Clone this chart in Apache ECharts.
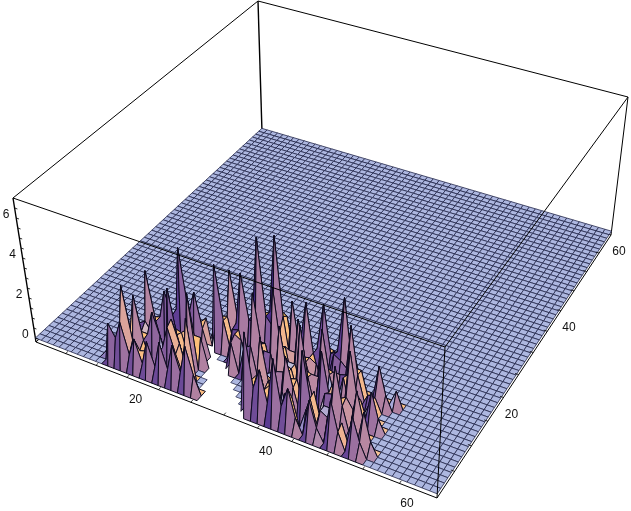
<!DOCTYPE html>
<html><head><meta charset="utf-8">
<style>html,body{margin:0;padding:0;background:#fff}#c{width:631px;height:511px}</style>
<script src="https://cdn.jsdelivr.net/npm/echarts@6/dist/echarts.min.js"></script>
</head><body><div id="c"></div>
<script>
// ---- data: raised vertices of the surface, row by row: [grid x, height]
const row1=[[12,1.9],[13,1.3],[14,2.2],[15,.7],[16,1.6],[17,.5],[18,1.7],[19,.6],[20,1.9],[21,.7],[22,2.0],[23,.8],[24,2.2],[25,.9],[33,4.0],[34,1.4],[35,2.4],[36,.9],[37,3.2],[38,1],[39,2.0],[40,.7],[42,1.8],[43,.6],[45,2.2],[46,.8],[48,1.8],[49,.7]];
const row2=[[11,.4],[12,.8],[13,1.2],[14,3.8],[15,1.2],[16,.8],[17,.9],[19,1],[21,1.2],[23,1.3],[33,1.4],[34,1.8],[35,1.2],[36,1.6],[38,1.4],[39,1.3],[41,1],[43,1.2],[44,1],[46,1],[49,1.9],[50,.6]];
const row3=[[14,1.4],[15,3.2],[16,1.1],[19,1.1],[20,2.2],[21,1.0],[23,3.0],[34,3.4],[35,1.4],[37,1.1],[40,3.5],[41,1.3],[43,1.2],[44,1.2],[47,1.0]];
const row4=[[15,1.2],[16,1.2],[17,2.4],[18,1.3],[20,2.4],[21,1.3],[34,1.4],[35,1.2],[37,2.6],[38,1.2],[41,1.4],[44,3.0],[45,1.2],[47,2.2],[48,.8]];
const row5=[[14,1.3],[15,1.5],[16,1.0],[19,3.6],[20,1.4],[22,3.7],[34,1.2],[35,1.4],[36,1.5],[37,1.3],[38,1.4],[42,1.2],[43,1.3],[44,1.2],[45,1.4],[46,.9]];
const row6=[[15,3.8],[16,1.4],[18,1.2],[19,1.4],[20,1.3],[22,1.4],[23,1.4],[35,3.4],[36,1.2],[38,3.8],[39,1.4],[41,2.9],[42,1],[45,3.4],[46,1.3],[48,1.8],[49,.6]];
const row7=[[15,1.3],[16,1.4],[17,2.8],[18,1.7],[20,1.2],[27,1.4],[29,1.4],[30,1.6],[32,1.6],[33,1.6],[35,1.3],[36,1.2],[38,1.4],[39,1.3],[40,1.3],[42,1.2],[45,1.3],[46,.9],[48,.6]];
const row8=[[16,1],[17,1.2],[18,1.8],[19,5.0],[20,1.8],[21,3.0],[22,1.3],[27,1.6],[28,1.4],[30,4.0],[31,1.6],[33,4.6],[34,1.6],[35,1.2],[36,1.2],[40,3.4],[41,1.3],[43,1.4],[47,.8]];
const row9=[[19,1.6],[20,1.7],[21,1.3],[22,1.6],[26,1.5],[27,1.6],[30,1.4],[31,1.4],[33,1.5],[34,1.6],[36,3.2],[37,1.2],[40,1.3],[41,1.2],[42,1.2],[43,1.3],[46,.7],[47,.7]];
const row10=[[20,1.2],[23,4.2],[24,1.5],[26,1.6],[27,4.2],[28,2],[29,2.0],[33,1.2],[34,1.2],[35,1.2],[36,1.1],[37,1.2],[38,1],[43,3.5],[44,1.2],[47,2.0],[48,.7]];
const row11=[[22,.8],[23,1.4],[24,1.5],[27,1.4],[28,2],[29,6.0],[30,2.2],[31,1.8],[32,1.6],[34,3.4],[35,1.2],[36,3.6],[37,1.2],[40,1.5],[41,1.3],[42,1],[43,1.2],[44,1.2],[47,.6],[49,.8]];
const row12=[[24,3.6],[25,1.2],[29,2],[30,2.2],[31,6.1],[32,2.2],[34,1],[35,1.2],[37,1.2],[38,3.5],[39,1.2],[40,1.4],[41,4.2],[42,1.4]];
const row13=[[24,1.1],[31,2.2],[32,2],[38,1.2],[39,1.1],[41,1.3],[42,1.2]];
const surfaceRows={1:row1,2:row2,3:row3,4:row4,5:row5,6:row6,7:row7,8:row8,9:row9,10:row10,11:row11,12:row12,13:row13};
// missing part of the surface: for row y, cells from holeStart[y] to holeEnd[y]
const holeStart = [26,26,25,25,24,24,23,23,22,22,21];
const holeEnd   = [33,32,31,30,29,28,27,26,24,23,22];
const xTicks = [20,40,60];
const yTicks = [20,40,60];
const zTicks = [0,2,4,6];

// ---- view
const N = 60, zMin = -0.2, zMax = 7;
const bottomCorners = [[36,342],[437,498],[611,235],[262,132]];
const topCorners    = [[13,198],[445,347],[628,97],[258,1]];
function homography(q){
  const [p0,p1,p2,p3]=q;
  const dx1=p1[0]-p2[0],dx2=p3[0]-p2[0],sx=p0[0]-p1[0]+p2[0]-p3[0];
  const dy1=p1[1]-p2[1],dy2=p3[1]-p2[1],sy=p0[1]-p1[1]+p2[1]-p3[1];
  const d=dx1*dy2-dx2*dy1, g=(sx*dy2-dx2*sy)/d, h=(dx1*sy-sx*dy1)/d;
  const a=p1[0]-p0[0]+g*p1[0],b=p3[0]-p0[0]+h*p3[0],e=p1[1]-p0[1]+g*p1[1],f=p3[1]-p0[1]+h*p3[1];
  return (X,Y)=>{const w=g*X+h*Y+1;return [(a*X+b*Y+p0[0])/w,(e*X+f*Y+p0[1])/w];};
}
const hb=homography(bottomCorners), ht=homography(topCorners);
function project(x,y,z){
  const p=hb(x/N,y/N),q=ht(x/N,y/N),t=(z-zMin)/(zMax-zMin);
  return [p[0]+(q[0]-p[0])*t,p[1]+(q[1]-p[1])*t];
}
// ---- surface table
const Z=[];for(let i=0;i<=N;i++){Z.push(new Array(N+1).fill(0));}
Object.keys(surfaceRows).forEach(y=>surfaceRows[y].forEach(v=>{Z[v[0]][+y]=v[1];}));
const isHole=(i,j)=>j<holeStart.length&&i>=holeStart[j]&&i<holeEnd[j];
const cells=[];
for(let i=0;i<N;i++)for(let j=0;j<N;j++){
  if(isHole(i,j))continue;
  cells.push([i,j,Z[i][j],Z[i+1][j],Z[i+1][j+1],Z[i][j+1]]);
}
cells.sort((a,b)=>(a[0]-a[1])-(b[0]-b[1]));

// shading: three coloured lights, as the original
function shade(z00,z10,z11,z01){
  const dx=(z10+z11-z00-z01)/2, dy=(z01+z11-z00-z10)/2, m=Math.hypot(dx,dy);
  let n=[0,.28,.96];
  if(m>1e-6){
    let s=(-dx/m*.94-dy/m*.64)/1.137;
    let sp=s>.19?-.02+(s-.19)*.95:-.02+(s-.19)*.35;
    sp*=.75+.75*Math.min(1,(m/4)*(m/4));
    const ny=-.1,nz=Math.sqrt(Math.max(0,1-sp*sp-ny*ny));
    const t=Math.min(1,m/.5);
    n=[sp*t,.28*(1-t)+ny*t,.96*(1-t)+nz*t];
    const l=Math.hypot(n[0],n[1],n[2]);n=n.map(v=>v/l);
  }
  const c=v=>Math.round(255*Math.max(0,Math.min(1,v)));
  return `rgb(${c((n[0]+n[2])/1.414)},${c((n[0]+n[1]+n[2])/1.732)},${c((n[1]+n[2])/1.414)})`;
}
const backEdges=[[[0,0,zMin],[0,0,zMax]],[[0,N,zMin],[0,N,zMax]],[[N,N,zMin],[N,N,zMax]],[[0,0,zMax],[0,N,zMax]],[[0,N,zMax],[N,N,zMax]],[[0,0,zMin],[0,N,zMin]],[[0,N,zMin],[N,N,zMin]]];
const frontEdges=[[[0,0,zMin],[N,0,zMin]],[[N,0,zMin],[N,N,zMin]],[[N,0,zMin],[N,0,zMax]],[[0,0,zMax],[N,0,zMax]],[[N,0,zMax],[N,N,zMax]]];
const lineItem=(api,e,w)=>{const a=api.coord(project(...e[0])),b=api.coord(project(...e[1]));
  return {type:'line',shape:{x1:a[0],y1:a[1],x2:b[0],y2:b[1]},style:{stroke:'#000',lineWidth:w}};};
const xLabelOffset={20:[-23,10],40:[-26,10],60:[-30,6]};
const labels=[
  ...xTicks.map(v=>({t:v,p:[v,0,zMin],o:xLabelOffset[v]})),
  ...yTicks.map(v=>({t:v,p:[N,v,zMin],o:[8,17]})),
  ...zTicks.map(v=>({t:v,p:[0,0,v],o:[-10,-3]}))
];
const tickMarks=[
  ...[5,10,15,20,25,30,35,40,45,50,55].map(v=>[[v,0,zMin],[v,.5,zMin]]),
  ...[5,10,15,20,25,30,35,40,45,50,55].map(v=>[[N,v,zMin],[N-.5,v,zMin]]),
  ...[0,.5,1,1.5,2,2.5,3,3.5,4,4.5,5,5.5,6,6.5].map(v=>[[0,0,v],[.45,0,v]])
];
const chart=echarts.init(document.getElementById('c'),null,{renderer:'canvas'});
chart.setOption({
  animation:false,backgroundColor:'#fff',
  grid:{left:0,right:0,top:0,bottom:0},
  xAxis:{type:'value',min:0,max:631,show:false},
  yAxis:{type:'value',min:0,max:511,inverse:true,show:false},
  series:[
    {type:'custom',clip:false,silent:true,data:backEdges.map((e,i)=>[i]),
     renderItem:(p,api)=>lineItem(api,backEdges[api.value(0)],api.value(0)<2?1.4:1)},
    {type:'custom',clip:false,silent:true,progressive:0,data:cells,
     dimensions:['i','j','z00','z10','z11','z01'],encode:{x:0,y:1},
     renderItem:(p,api)=>{
       const i=api.value(0),j=api.value(1),z=[api.value(2),api.value(3),api.value(4),api.value(5)];
       const pts=[[i,j,z[0]],[i+1,j,z[1]],[i+1,j+1,z[2]],[i,j+1,z[3]]].map(q=>api.coord(project(q[0],q[1],q[2])));
       const flat=z.every(v=>v===0);
       return {type:'polygon',shape:{points:pts},style:{fill:shade(z[0],z[1],z[2],z[3]),stroke:flat?'#23274a':'#0c0a1e',lineWidth:flat?.8:1}};
     }},
    {type:'custom',clip:false,silent:true,data:frontEdges.map((e,i)=>[i]),
     renderItem:(p,api)=>lineItem(api,frontEdges[api.value(0)],1)},
    {type:'custom',clip:false,silent:true,data:tickMarks.map((e,i)=>[i]),
     renderItem:(p,api)=>lineItem(api,tickMarks[api.value(0)],.8)},
    {type:'custom',clip:false,silent:true,data:labels.map((e,i)=>[i]),
     renderItem:(p,api)=>{const l=labels[api.value(0)],a=api.coord(project(...l.p));
       return {type:'text',style:{x:a[0]+l.o[0],y:a[1]+l.o[1],text:String(l.t),fill:'#111',
         font:'12px "Liberation Sans", Arial, sans-serif',textAlign:'center',textVerticalAlign:'middle'}};}}
  ]
});
</script></body></html>
